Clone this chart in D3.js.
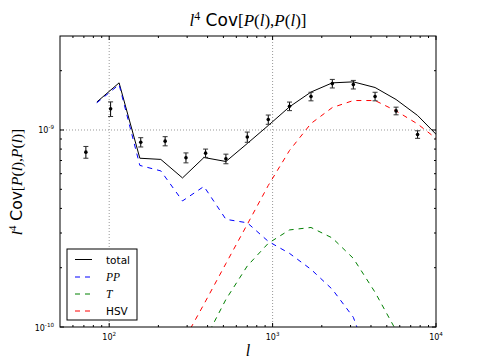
<!DOCTYPE html>
<html><head><meta charset="utf-8">
<script src="https://cdn.jsdelivr.net/npm/d3@7"></script>
<style>body{margin:0;background:#fff}svg{display:block}</style>
</head><body>
<script>
// ---- data ----
const lGrid = [84,115,154,207,281,380,518,700,941,1269,1718,2320,3120,4238,5697,7714,10400];
const totalVals = [1.387e-9,1.735e-9,7.19e-10,7.09e-10,5.71e-10,7.25e-10,6.92e-10,8.54e-10,1.054e-9,1.311e-9,1.558e-9,1.735e-9,1.755e-9,1.643e-9,1.428e-9,1.185e-9,9.21e-10];
const ppVals = [1.374e-9,1.70e-9,6.61e-10,6.20e-10,4.365e-10,5.17e-10,3.52e-10,3.38e-10,2.72e-10,2.364e-10,1.962e-10,1.553e-10,1.12e-10,5.6e-11,3.0e-11,1.7e-11,1.0e-11];
const tVals = [2e-12,4e-12,8e-12,1.6e-11,3.8e-11,8.4e-11,1.38e-10,2.04e-10,2.66e-10,3.11e-10,3.20e-10,2.83e-10,2.23e-10,1.50e-10,9.6e-11,5.4e-11,3.0e-11];
const hsvVals = [4e-12,8e-12,1.6e-11,3.2e-11,8.3e-11,1.305e-10,2.10e-10,3.32e-10,5.23e-10,7.87e-10,1.079e-9,1.30e-9,1.411e-9,1.411e-9,1.25e-9,1.073e-9,8.84e-10];

const lData = [72,102,156,220,295,389,518,700,941,1269,1718,2320,3120,4238,5697,7714];
const vData = [7.72e-10,1.28e-9,8.67e-10,8.78e-10,7.23e-10,7.63e-10,7.14e-10,9.21e-10,1.13e-9,1.32e-9,1.48e-9,1.72e-9,1.70e-9,1.48e-9,1.25e-9,9.49e-10];
const eData = [5.3e-11,1.09e-10,4.7e-11,4.7e-11,4.2e-11,3.7e-11,4.0e-11,5.5e-11,6.1e-11,6.6e-11,7.4e-11,8.6e-11,8.5e-11,7.4e-11,5.6e-11,4.2e-11];

const xTickVals = [100,1000,10000];
const xTickExp = ["2","3","4"];
const yTickVals = [1e-10,1e-9];
const yTickExp = ["-10","-9"];

const seriesNames = ["total","PP","T","HSV"];
const seriesColors = ["#000000","#0000ff","#008000","#ff0000"];

// ---- layout ----
const W = 485, H = 363;
const L = 60, R = 436, T = 36, B = 327;
const sans = "'DejaVu Sans', sans-serif";
const serif = "'Liberation Serif', 'Times New Roman', serif";

const svg = d3.select("body").append("svg").attr("width", W).attr("height", H);
const x = d3.scaleLog().domain([50, 10000]).range([L, R]);
const y = d3.scaleLog().domain([1e-10, 3e-9]).range([B, T]);

svg.append("defs").append("clipPath").attr("id","clip")
  .append("rect").attr("x",L).attr("y",T).attr("width",R-L).attr("height",B-T);

// grid
const grid = svg.append("g");
[100,1000].forEach(v => grid.append("line").attr("x1",x(v)).attr("x2",x(v)).attr("y1",T).attr("y2",B)
  .attr("stroke","#999").attr("stroke-width",1).attr("stroke-dasharray","1,2"));
[1e-9].forEach(v => grid.append("line").attr("y1",y(v)).attr("y2",y(v)).attr("x1",L).attr("x2",R)
  .attr("stroke","#999").attr("stroke-width",1).attr("stroke-dasharray","1,2"));

// lines
const plot = svg.append("g").attr("clip-path","url(#clip)");
const line = d3.line().x(d => x(d[0])).y(d => y(d[1]));
const allSeries = [totalVals, ppVals, tVals, hsvVals];
allSeries.forEach((vals, i) => {
  plot.append("path").datum(lGrid.map((l, j) => [l, vals[j]]))
    .attr("d", line).attr("fill","none").attr("stroke", seriesColors[i]).attr("stroke-width",1)
    .attr("stroke-dasharray", i === 0 ? null : "5,5");
});

// error bars + points
const eb = plot.append("g");
lData.forEach((l, i) => {
  const cx = x(l), y1 = y(vData[i] - eData[i]), y2 = y(vData[i] + eData[i]);
  eb.append("line").attr("x1",cx).attr("x2",cx).attr("y1",y1).attr("y2",y2).attr("stroke","#000").attr("stroke-width",1);
  [y1,y2].forEach(yy => eb.append("line").attr("x1",cx-2.5).attr("x2",cx+2.5).attr("y1",yy).attr("y2",yy).attr("stroke","#333").attr("stroke-width",1));
  eb.append("circle").attr("cx",cx).attr("cy",y(vData[i])).attr("r",1.8).attr("fill","#000");
});

// frame
svg.append("rect").attr("x",L).attr("y",T).attr("width",R-L).attr("height",B-T)
  .attr("fill","none").attr("stroke","#000").attr("stroke-width",1);

// ticks (inward, all sides)
const tk = svg.append("g").attr("stroke","#000").attr("stroke-width",1);
const xMinor = [], yMinor = [];
[10,100,1000].forEach(d => { for (let k=2;k<=9;k++){ const v=k*d; if (v>50 && v<10000) xMinor.push(v);} });
[1e-10,1e-9].forEach(d => { for (let k=2;k<=9;k++){ const v=k*d; if (v>1e-10 && v<3e-9) yMinor.push(v);} });
xTickVals.forEach(v => { const px=x(v); tk.append("line").attr("x1",px).attr("x2",px).attr("y1",B).attr("y2",B-4);
  tk.append("line").attr("x1",px).attr("x2",px).attr("y1",T).attr("y2",T+4); });
xMinor.forEach(v => { const px=x(v); tk.append("line").attr("x1",px).attr("x2",px).attr("y1",B).attr("y2",B-2);
  tk.append("line").attr("x1",px).attr("x2",px).attr("y1",T).attr("y2",T+2); });
yTickVals.forEach(v => { const py=y(v); tk.append("line").attr("y1",py).attr("y2",py).attr("x1",L).attr("x2",L+4);
  tk.append("line").attr("y1",py).attr("y2",py).attr("x1",R).attr("x2",R-4); });
yMinor.forEach(v => { const py=y(v); tk.append("line").attr("y1",py).attr("y2",py).attr("x1",L).attr("x2",L+2);
  tk.append("line").attr("y1",py).attr("y2",py).attr("x1",R).attr("x2",R-2); });

// tick labels
xTickVals.forEach((v,i) => {
  const t = svg.append("text").attr("x", x(v)).attr("y", 340).attr("text-anchor","middle")
    .attr("font-family", sans).attr("font-size", 8).attr("fill","#000");
  t.append("tspan").text("10");
  t.append("tspan").attr("dy",-4).attr("font-size",5.6).text(xTickExp[i]);
});
yTickVals.forEach((v,i) => {
  const t = svg.append("text").attr("x", 54).attr("y", y(v)+3.5).attr("text-anchor","end")
    .attr("font-family", sans).attr("font-size", 8).attr("fill","#000");
  t.append("tspan").text("10");
  t.append("tspan").attr("dy",-4).attr("font-size",5.6).text(yTickExp[i]);
});

// math-like label builder
function mathLabel(t, fs) {
  const it = (s) => t.append("tspan").attr("font-family", serif).attr("font-style","italic").text(s);
  const up = (s) => t.append("tspan").attr("font-family", serif).text(s);
  it("l");
  t.append("tspan").attr("font-family", serif).attr("font-size", fs*0.7).attr("dy", -fs*0.38).text("4");
  t.append("tspan").attr("font-family", sans).attr("dy", fs*0.38).text(" Cov");
  up("["); it("P"); up("("); it("l"); up(")"); up(","); it("P"); up("("); it("l"); up(")"); up("]");
}
const title = svg.append("text").attr("x",(L+R)/2).attr("y",26).attr("text-anchor","middle")
  .attr("font-size",17).attr("fill","#000");
mathLabel(title, 17);

const ylab = svg.append("text").attr("transform","translate(22,182) rotate(-90)").attr("text-anchor","middle")
  .attr("font-size",15.5).attr("fill","#000");
mathLabel(ylab, 15.5);

svg.append("text").attr("x",(L+R)/2).attr("y",356).attr("text-anchor","middle")
  .attr("font-family",serif).attr("font-style","italic").attr("font-size",16).text("l");

// legend
const lg = svg.append("g");
lg.append("rect").attr("x",67).attr("y",249).attr("width",70).attr("height",71)
  .attr("fill","#fff").attr("stroke","#000").attr("stroke-width",1);
const legY = [259.5, 277, 294, 311];
seriesNames.forEach((n, i) => {
  lg.append("line").attr("x1",75).attr("x2",92).attr("y1",legY[i]).attr("y2",legY[i])
    .attr("stroke", seriesColors[i]).attr("stroke-width",1).attr("stroke-dasharray", i===0?null:"5,5");
  const t = lg.append("text").attr("x",106).attr("y",legY[i]+4).attr("font-size",10.5).attr("fill","#000");
  if (n === "PP" || n === "T") t.attr("font-family",serif).attr("font-style","italic").attr("font-size",11.5).text(n);
  else t.attr("font-family",sans).text(n);
});
</script>
</body></html>
